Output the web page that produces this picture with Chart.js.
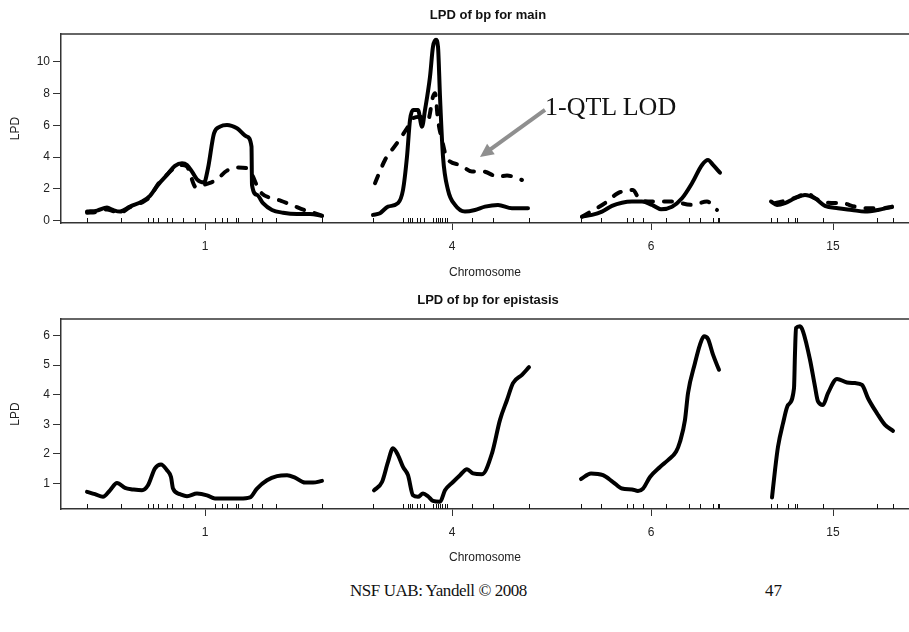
<!DOCTYPE html>
<html>
<head>
<meta charset="utf-8">
<script src="https://cdn.jsdelivr.net/npm/chart.js@4"></script>
<style>
  body { margin: 0; background: #fff; }
  #page { position: relative; width: 909px; height: 632px; overflow: hidden; }
  .box { position: absolute; left: 0; width: 909px; height: 290px; }
  .serif { position: absolute; font-family: "Liberation Serif", "Times New Roman", serif; color: #111; white-space: nowrap; }
</style>
</head>
<body>
<div id="page">
  <div class="box" style="top:0"><canvas id="mainChart" width="909" height="290"></canvas></div>
  <div class="box" style="top:290px"><canvas id="epiChart" width="909" height="290"></canvas></div>
  <div class="serif" style="left:545px; top:94px; font-size:26px; line-height:26px;">1-QTL LOD</div>
  <div class="serif" style="left:350px; top:582px; font-size:17px; line-height:17px; letter-spacing:-0.45px;">NSF UAB: Yandell © 2008</div>
  <div class="serif" style="left:765px; top:582px; font-size:17px; line-height:17px;">47</div>
</div>
<script>
// chromosomes and their label positions along the genome axis (cM-ish units)
const chromNames = ['1', '4', '6', '15'];
const chromTickPos = [144, 391, 590, 772];

// marker positions (rug)
const markerPos = [
  26, 60, 87, 92, 97, 106, 111, 122, 134, 154, 161, 166, 175, 177, 191, 201, 215, 261,
  312, 342, 347, 349, 351, 356, 359, 363, 372, 375, 377, 379, 381, 384, 386, 411, 432, 468,
  520, 540, 566, 572, 582, 605, 628, 639, 652, 657, 658,
  710, 716, 727, 734, 736, 762, 816, 832
];

const mainYTicks = [0, 2, 4, 6, 8, 10];
const epiYTicks = [1, 2, 3, 4, 5, 6];

// LPD for main effects, solid = LPD, dashed = 1-QTL LOD  [position, value]
const mainSolid1 = [[26,0.57],[36,0.63],[46,0.82],[52,0.67],[59,0.57],[69,0.88],[81,1.2],[89,1.56],[97,2.25],[106,2.88],[114,3.45],[121,3.62],[126,3.51],[131,3.09],[136,2.6],[143,2.4],[147,3.3],[153,5.5],[159,5.92],[166,6.03],[176,5.82],[186,5.29],[190.5,4.66],[191,2.25],[196,1.62],[202,1.1],[211,0.67],[222,0.5],[236,0.42],[249,0.42],[261,0.3]];
const mainDash1 = [[26,0.5],[36,0.55],[46,0.7],[52,0.6],[59,0.5],[69,0.85],[81,1.15],[89,1.5],[97,2.3],[106,2.9],[114,3.35],[121,3.5],[126,3.4],[135,2.1],[145,2.3],[155,2.56],[166,3.15],[176,3.35],[186,3.3],[191,2.9],[196,2.2],[201,1.7],[210,1.42],[220,1.25],[232,0.95],[244,0.65],[252,0.5],[261,0.32]];
const mainSolid4 = [[312,0.36],[319,0.47],[327,0.88],[337,1.1],[342,1.93],[346,4.03],[349,6.34],[352,6.97],[357,6.97],[361,5.92],[364,6.97],[369,9.07],[372,10.96],[375,11.39],[377,10.96],[379,7.81],[382,4.03],[387,1.93],[394,0.99],[404,0.57],[414,0.67],[424,0.88],[437,0.99],[451,0.78],[467,0.78]];
const mainDash4 = [[314,2.36],[324,3.82],[336,4.88],[346,5.82],[352,6.45],[359,6.55],[367,6.34],[372,7.81],[374,8.03],[377,6.34],[381,5.08],[386,3.93],[399,3.51],[411,3.09],[422,3.09],[437,2.77],[446,2.84],[461,2.56]];
const mainSolid6 = [[521,0.25],[531,0.36],[541,0.57],[551,0.93],[561,1.13],[571,1.2],[581,1.2],[591,0.99],[600,0.72],[611,0.88],[621,1.41],[631,2.36],[641,3.51],[647,3.82],[652,3.51],[659,3.02]];
const mainDash6 = [[521,0.25],[534,0.72],[544,1.1],[557,1.73],[572,1.93],[579,1.3],[591,1.2],[611,1.2],[631,0.99],[646,1.2],[656,0.67]];
const mainSolid15 = [[710,1.2],[716,0.99],[724,1.1],[734,1.41],[744,1.62],[754,1.41],[764,0.93],[777,0.78],[791,0.67],[804,0.57],[817,0.67],[831,0.88]];
const mainDash15 = [[714,1.1],[727,1.3],[737,1.51],[746,1.73],[754,1.41],[767,1.13],[781,1.1],[794,0.88],[807,0.78],[821,0.78],[831,0.85]];

// LPD for epistasis
const epi1 = [[26,0.72],[34,0.64],[42,0.55],[49,0.77],[56,1.02],[64,0.85],[72,0.8],[81,0.77],[87,0.94],[94,1.51],[100,1.64],[106,1.45],[110,1.22],[112,0.83],[119,0.64],[126,0.57],[136,0.66],[146,0.6],[154,0.49],[166,0.49],[179,0.49],[189,0.53],[196,0.83],[206,1.11],[216,1.25],[226,1.28],[234,1.2],[244,1.03],[252,1.03],[261,1.09]];
const epi4 = [[313,0.77],[321,1.05],[327,1.73],[332,2.19],[337,1.96],[342,1.56],[347,1.28],[352,0.6],[357,0.55],[362,0.66],[367,0.57],[372,0.41],[379,0.38],[384,0.77],[392,1.05],[399,1.28],[406,1.48],[412,1.34],[421,1.31],[431,2.02],[439,3.15],[446,3.82],[452,4.39],[461,4.67],[468,4.93]];
const epi6 = [[520,1.15],[530,1.34],[542,1.28],[552,1.05],[561,0.83],[571,0.8],[577,0.75],[582,0.83],[589,1.22],[599,1.56],[607,1.79],[615,2.07],[619,2.41],[624,3.15],[627,4.05],[634,5.07],[639,5.69],[643,5.97],[647,5.88],[652,5.35],[658,4.84]];
const epi15 = [[711,0.53],[714,1.45],[717,2.24],[722,3.03],[727,3.65],[733,4.22],[734,5.41],[735,6.25],[739,6.31],[742,6.14],[749,5.18],[754,4.27],[757,3.77],[762,3.65],[767,4.05],[776,4.53],[786,4.41],[794,4.39],[801,4.33],[807,3.88],[816,3.37],[824,2.98],[832,2.78]];

const axisFont = { family: 'Liberation Sans, Arial, sans-serif', size: 12 };
const ink = '#222';

function seg(points, dashed) {
    return {
        data: points.map(p => ({ x: p[0], y: p[1] })),
        borderColor: '#000',
        borderWidth: 4,
        borderDash: dashed ? [8, 11] : [],
        borderCapStyle: 'round',
        borderJoinStyle: 'round',
        pointRadius: 0,
        cubicInterpolationMode: 'monotone',
        fill: false
    };
}

// R-style extras: top frame line, marker rug, title, arrow
const rplot = {
    id: 'rplot',
    afterDraw(chart, args, opts) {
        const { ctx, chartArea: a, scales } = chart;
        ctx.save();
        ctx.strokeStyle = '#333';
        ctx.lineWidth = 1.5;
        ctx.beginPath();
        ctx.moveTo(a.left, a.top);
        ctx.lineTo(a.right, a.top);
        ctx.stroke();

        ctx.lineWidth = 1;
        ctx.strokeStyle = '#111';
        markerPos.forEach(m => {
            const x = Math.round(scales.x.getPixelForValue(m)) + 0.5;
            ctx.beginPath();
            ctx.moveTo(x, a.bottom);
            ctx.lineTo(x, a.bottom - 5);
            ctx.stroke();
        });

        ctx.fillStyle = '#111';
        ctx.font = 'bold 13px "Liberation Sans", Arial, sans-serif';
        ctx.textAlign = 'center';
        ctx.textBaseline = 'middle';
        ctx.fillText(opts.title, (a.left + a.right) / 2 + 3, a.top - 19);

        if (opts.arrow) {
            const x0 = scales.x.getPixelForValue(opts.arrow[0][0]);
            const y0 = scales.y.getPixelForValue(opts.arrow[0][1]);
            const x1 = scales.x.getPixelForValue(opts.arrow[1][0]);
            const y1 = scales.y.getPixelForValue(opts.arrow[1][1]);
            const ang = Math.atan2(y1 - y0, x1 - x0);
            const head = 15;
            ctx.strokeStyle = '#8f8f8f';
            ctx.fillStyle = '#8f8f8f';
            ctx.lineWidth = 4;
            ctx.beginPath();
            ctx.moveTo(x0, y0);
            ctx.lineTo(x1 - Math.cos(ang) * head * 0.8, y1 - Math.sin(ang) * head * 0.8);
            ctx.stroke();
            ctx.beginPath();
            ctx.moveTo(x1, y1);
            ctx.lineTo(x1 - head * Math.cos(ang - 0.45), y1 - head * Math.sin(ang - 0.45));
            ctx.lineTo(x1 - head * Math.cos(ang + 0.45), y1 - head * Math.sin(ang + 0.45));
            ctx.closePath();
            ctx.fill();
        }
        ctx.restore();
    }
};

function makeChart(id, datasets, yMin, yMax, yTicks, cfg) {
    return new Chart(document.getElementById(id), {
        type: 'line',
        data: { datasets: datasets },
        plugins: [rplot],
        options: {
            responsive: false,
            animation: false,
            devicePixelRatio: 1,
            layout: { padding: { top: cfg.padTop, left: 0, right: 0, bottom: 0 } },
            scales: {
                x: {
                    type: 'linear',
                    min: 0,
                    max: 848,
                    afterBuildTicks: s => { s.ticks = chromTickPos.map(v => ({ value: v })); },
                    afterFit: s => { s.height = cfg.xHeight; },
                    ticks: {
                        autoSkip: false,
                        maxRotation: 0,
                        padding: 9,
                        color: ink,
                        font: axisFont,
                        callback: (v, i) => chromNames[i]
                    },
                    grid: { drawOnChartArea: false, tickLength: 7, color: '#333', lineWidth: 1 },
                    border: { color: '#333', width: 1.5 },
                    title: { display: true, text: 'Chromosome', color: ink, font: axisFont, padding: { top: 0, bottom: cfg.xTitlePad } }
                },
                y: {
                    min: yMin,
                    max: yMax,
                    afterBuildTicks: s => { s.ticks = yTicks.map(v => ({ value: v })); },
                    afterFit: s => { s.width = 61; },
                    ticks: { padding: 3, color: ink, font: axisFont },
                    grid: { drawOnChartArea: false, tickLength: 8, color: '#333', lineWidth: 1 },
                    border: { color: '#333', width: 1.5 },
                    title: { display: true, text: 'LPD', color: ink, font: axisFont, padding: { top: 8, bottom: 0 } }
                }
            },
            plugins: {
                legend: { display: false },
                tooltip: { enabled: false },
                rplot: cfg.rplot
            }
        }
    });
}

makeChart('mainChart', [
    seg(mainDash1, true), seg(mainDash4, true), seg(mainDash6, true), seg(mainDash15, true),
    seg(mainSolid1, false), seg(mainSolid4, false), seg(mainSolid6, false), seg(mainSolid15, false)
], -0.15, 11.76, mainYTicks, {
    padTop: 34, xHeight: 67, xTitlePad: 10,
    rplot: { title: 'LPD of bp for main', arrow: [[484, 6.98], [419, 4.01]] }
});

makeChart('epiChart', [
    seg(epi1, false), seg(epi4, false), seg(epi6, false), seg(epi15, false)
], 0.139, 6.555, epiYTicks, {
    padTop: 29, xHeight: 71, xTitlePad: 15,
    rplot: { title: 'LPD of bp for epistasis', arrow: null }
});
</script>
</body>
</html>
